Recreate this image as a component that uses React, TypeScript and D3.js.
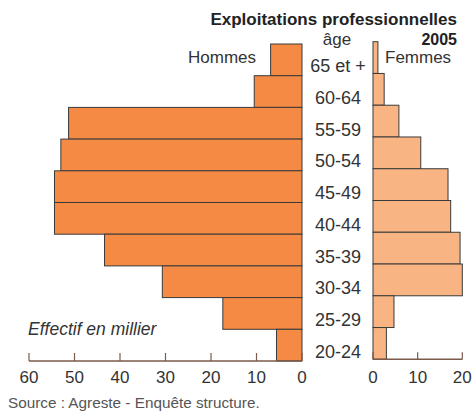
import * as d3 from "d3";

const WIDTH = 474;
const HEIGHT = 411;

// age groups, top to bottom
const ages = ["65 et +", "60-64", "55-59", "50-54", "45-49", "40-44", "35-39", "30-34", "25-29", "20-24"];
// effectif en millier
const hommes = [6.9, 10.5, 51.3, 53.0, 54.4, 54.4, 43.4, 30.7, 17.4, 5.6];
const femmes = [1.1, 2.5, 5.8, 10.7, 16.8, 17.4, 19.5, 20.0, 4.7, 3.0];
const ticksHommes = [60, 50, 40, 30, 20, 10, 0];
const ticksFemmes = [0, 10, 20];

const FONT = "'Liberation Sans', Arial, sans-serif";
const TEXT = "#333";
const AXIS = "#7a5a48";
const STROKE = "#3a3a3a";

export default function App() {
  const xH = d3.scaleLinear().domain([0, 60]).range([302, 29]);
  const xF = d3.scaleLinear().domain([0, 20]).range([373, 462.3]);
  const yH = d3.scaleBand().domain(ages).range([44, 361]).padding(0);
  const yF = d3.scaleBand().domain(ages).range([41.7, 359.3]).padding(0);

  const axisH = 361;
  const axisF = 359.3;

  return (
    <svg
      width={WIDTH}
      height={HEIGHT}
      style={{ position: "absolute", left: 0, top: 0, background: "#fff" }}
      fontFamily={FONT}
    >
      {/* bars Hommes */}
      {ages.map((a, i) => (
        <rect
          key={"h" + a}
          x={xH(hommes[i])}
          y={yH(a)}
          width={xH(0) - xH(hommes[i])}
          height={yH.bandwidth()}
          fill="#f58a45"
          stroke={STROKE}
          strokeWidth={1}
        />
      ))}
      {/* bars Femmes */}
      {ages.map((a, i) => (
        <rect
          key={"f" + a}
          x={xF(0)}
          y={yF(a)}
          width={xF(femmes[i]) - xF(0)}
          height={yF.bandwidth()}
          fill="#f8b482"
          stroke={STROKE}
          strokeWidth={1}
        />
      ))}

      {/* axis Hommes */}
      <line x1={xH(60)} x2={xH(0)} y1={axisH} y2={axisH} stroke={AXIS} strokeWidth={1.5} />
      {ticksHommes.map((t) => (
        <g key={"th" + t}>
          <line x1={xH(t)} x2={xH(t)} y1={axisH} y2={axisH - 8} stroke={AXIS} strokeWidth={1.2} />
          <text x={xH(t)} y={383} textAnchor="middle" fontSize={17} fill={TEXT}>
            {t}
          </text>
        </g>
      ))}
      {/* axis Femmes */}
      <line x1={xF(0)} x2={xF(20)} y1={axisF} y2={axisF} stroke={AXIS} strokeWidth={1.5} />
      {ticksFemmes.map((t) => (
        <g key={"tf" + t}>
          <line x1={xF(t)} x2={xF(t)} y1={axisF} y2={axisF - 7} stroke={AXIS} strokeWidth={1.2} />
          <text x={xF(t)} y={383} textAnchor="middle" fontSize={17} fill={TEXT}>
            {t}
          </text>
        </g>
      ))}

      {/* age labels */}
      {ages.map((a) => (
        <text
          key={"l" + a}
          x={338}
          y={(yH(a) as number) + yH.bandwidth() / 2 + 12.5}
          textAnchor="middle"
          fontSize={18}
          fill={TEXT}
        >
          {a}
        </text>
      ))}

      <text x={337} y={45} textAnchor="middle" fontSize={17} fill={TEXT}>
        âge
      </text>
      <text x={256} y={63} textAnchor="end" fontSize={17} fill={TEXT}>
        Hommes
      </text>
      <text x={385} y={63} fontSize={17} fill={TEXT}>
        Femmes
      </text>
      <text x={457} y={25} textAnchor="end" fontSize={17} fontWeight="bold" fill="#222">
        Exploitations professionnelles
      </text>
      <text x={457} y={45} textAnchor="end" fontSize={16} fontWeight="bold" fill="#222">
        2005
      </text>
      <text x={28} y={335} fontSize={17.5} fontStyle="italic" fill={TEXT}>
        Effectif en millier
      </text>
      <text x={8} y={408} fontSize={15.3} fill="#555">
        Source : Agreste - Enquête structure.
      </text>
    </svg>
  );
}
